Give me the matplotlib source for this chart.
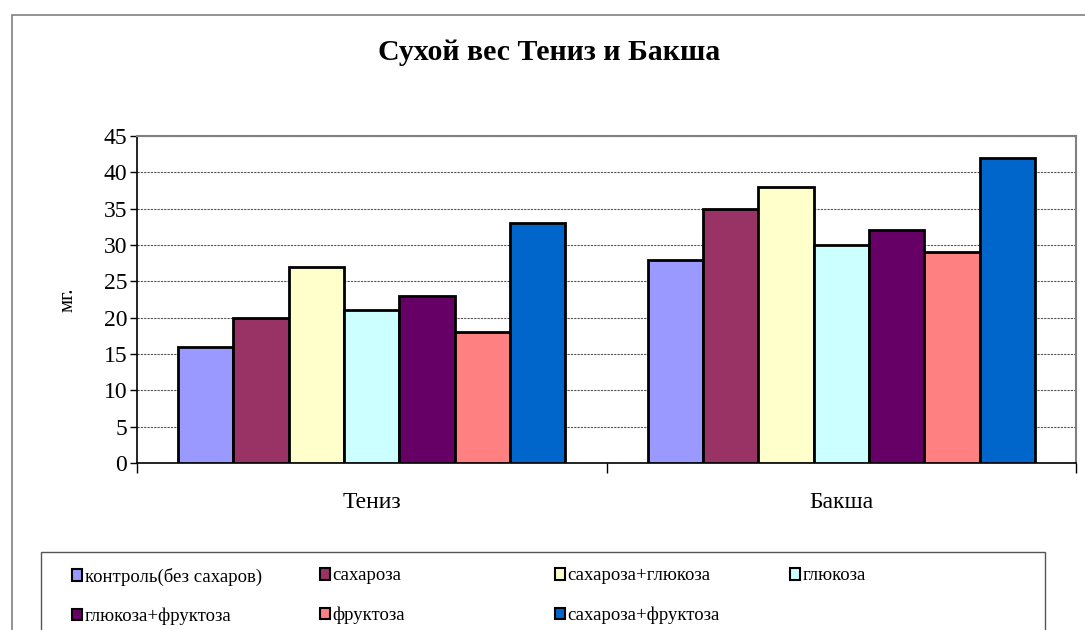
import numpy as np
import matplotlib
matplotlib.use('Agg')
import matplotlib.pyplot as plt
from matplotlib.patches import Rectangle

plt.rcParams['font.family'] = ['Liberation Serif', 'DejaVu Serif']

# DATA
categories = ['Тениз', 'Бакша']
series_names = ['контроль(без сахаров)', 'сахароза', 'сахароза+глюкоза', 'глюкоза',
                'глюкоза+фруктоза', 'фруктоза', 'сахароза+фруктоза']
kontrol = [16, 28]
saharoza = [20, 35]
saharoza_glukoza = [27, 38]
glukoza = [21, 30]
glukoza_fruktoza = [23, 32]
fruktoza = [18, 29]
saharoza_fruktoza = [33, 42]
series_values = [kontrol, saharoza, saharoza_glukoza, glukoza,
                 glukoza_fruktoza, fruktoza, saharoza_fruktoza]
colors = ['#9999FF', '#993366', '#FFFFCC', '#CCFFFF', '#660066', '#FF8080', '#0066CC']
yticks = [0, 5, 10, 15, 20, 25, 30, 35, 40, 45]

W, H = 1085, 630
fig = plt.figure(figsize=(W / 100, H / 100), dpi=100)

# outer chart frame
fig.patches.append(Rectangle((12 / W, 0 - 0.01), 1.1, 1 - 15 / H + 0.01,
                             transform=fig.transFigure, fill=False,
                             edgecolor='#808080', linewidth=1.2))

ax = fig.add_axes([137 / W, 1 - 463 / H, (1076 - 137) / W, (463 - 136) / H])

n = len(series_values)
group = 0.825
bw = group / n
x = np.arange(len(categories)) + 0.5
for i, (vals, col) in enumerate(zip(series_values, colors)):
    ax.bar(x - group / 2 + bw * (i + 0.5), vals, width=bw, color=col,
           edgecolor='black', linewidth=2, label=series_names[i], zorder=3)

ax.set_xlim(0, len(categories))
ax.set_ylim(0, 45)
ax.set_yticks(yticks)
ax.tick_params(axis='y', labelsize=17, length=5, width=1, direction='out', pad=2)
ax.yaxis.grid(True, linestyle=(0, (2, 1)), color='#555555', linewidth=0.8, zorder=0)

# category labels and boundary ticks
ax.set_xticks(np.arange(len(categories) + 1))
ax.set_xticklabels([])
ax.set_xticks(x, minor=True)
ax.set_xticklabels(categories, minor=True)
ax.tick_params(axis='x', which='major', length=7, width=1, direction='out')
ax.tick_params(axis='x', which='minor', length=0, labelsize=17, pad=21)

for s in ['top', 'right']:
    ax.spines[s].set_color('#808080')
    ax.spines[s].set_linewidth(1.5)
for s in ['left', 'bottom']:
    ax.spines[s].set_color('black')
    ax.spines[s].set_linewidth(1.2)

ax.set_ylabel('мг.', fontsize=15, labelpad=19)

fig.text(549 / W, 1 - 52 / H, 'Сухой вес Тениз и Бакша', ha='center', va='center',
         fontsize=21.5, fontweight='bold')

# legend box
fig.patches.append(Rectangle((41 / W, -0.01), (1045 - 41) / W, 1 - 552 / H + 0.01,
                             transform=fig.transFigure, fill=False,
                             edgecolor='#555555', linewidth=1))

handles, labels = ax.get_legend_handles_labels()
col_x = [64, 312, 547, 782]
for j in range(4):
    hs = handles[j::4]
    ls = labels[j::4]
    leg = fig.legend(hs, ls, loc='upper left', bbox_to_anchor=(col_x[j] / W, 1 - 560 / H),
                     frameon=False, fontsize=13.5, handlelength=0.55, handleheight=0.55,
                     handletextpad=0.15, labelspacing=1.17, borderaxespad=0)
    for p in leg.get_patches():
        p.set_linewidth(1.5)

fig.savefig('out.png', dpi=100)
